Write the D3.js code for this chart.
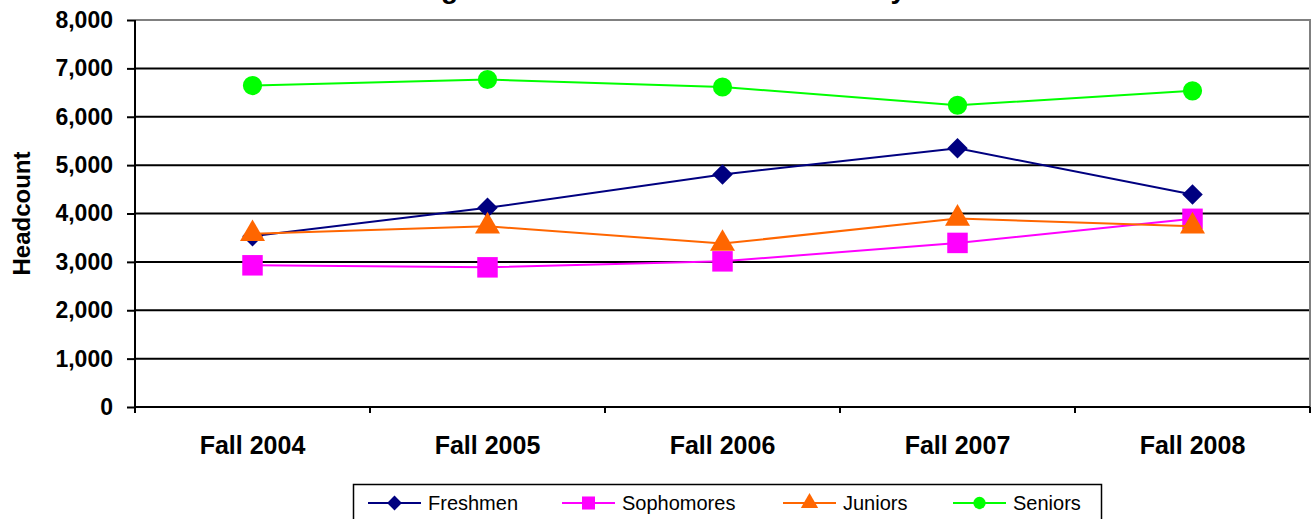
<!DOCTYPE html>
<html>
<head>
<meta charset="utf-8">
<script src="https://cdn.jsdelivr.net/npm/d3@7"></script>
<style>
	body { margin: 0; background: #fff; }
	svg text { font-family: "Liberation Sans", Arial, sans-serif; }
</style>
</head>
<body>
<div id="chart"></div>
<script>
"use strict";

// data
var categories = ["Fall 2004", "Fall 2005", "Fall 2006", "Fall 2007", "Fall 2008"];
var freshmen = [3530, 4117, 4808, 5347, 4394];
var sophomores = [2929, 2887, 3011, 3392, 3890];
var juniors = [3579, 3737, 3378, 3896, 3737];
var seniors = [6645, 6770, 6615, 6238, 6535];
var seriesNames = ["Freshmen", "Sophomores", "Juniors", "Seniors"];
var yTicks = [0, 1000, 2000, 3000, 4000, 5000, 6000, 7000, 8000];
var titleText = "Undergraduate Headcount Enrollment by Class Level";

// excel style diamond: a square turned 45 degrees
var diamond = {
	draw: function (ctx, size) {
		var r = Math.sqrt(size / 2);
		ctx.moveTo(0, -r);
		ctx.lineTo(r, 0);
		ctx.lineTo(0, r);
		ctx.lineTo(-r, 0);
		ctx.closePath();
	}
};

var series = [
	{ name: seriesNames[0], values: freshmen, color: "#000080", shape: diamond },
	{ name: seriesNames[1], values: sophomores, color: "#ff00ff", shape: d3.symbolSquare },
	{ name: seriesNames[2], values: juniors, color: "#ff6600", shape: d3.symbolTriangle },
	{ name: seriesNames[3], values: seniors, color: "#00ff00", shape: d3.symbolCircle }
];

var W = 1312, H = 519;
var margin = { top: 20, right: 2, bottom: 112, left: 135 },
	width = W - margin.left - margin.right,
	height = H - margin.top - margin.bottom;

var svg = d3.select("#chart").append("svg")
	.attr("width", W)
	.attr("height", H);

// title sits mostly above the page, only its descenders show (as in the original)
svg.append("text")
	.attr("x", 714)
	.attr("y", -2)
	.attr("text-anchor", "middle")
	.style("font-size", "28px")
	.style("font-weight", "bold")
	.text(titleText);

var g = svg.append("g")
	.attr("transform", "translate(" + margin.left + "," + margin.top + ")");

var x = d3.scaleBand().domain(categories).range([0, width]);
var y = d3.scaleLinear().domain([0, 8000]).range([height, 0]);
var cx = function (i) { return x(categories[i]) + x.bandwidth() / 2; };

// gridlines
g.append("g")
	.selectAll("line")
	.data(yTicks)
	.enter().append("line")
	.attr("x1", 0).attr("x2", width)
	.attr("y1", function (d) { return y(d); })
	.attr("y2", function (d) { return y(d); })
	.attr("stroke", "#000")
	.attr("stroke-width", 2);

// plot area frame (top and right in grey)
g.append("path")
	.attr("d", "M0,0H" + width + "V" + height)
	.attr("fill", "none")
	.attr("stroke", "#808080")
	.attr("stroke-width", 2);

// y axis
var yAxis = g.append("g")
	.call(d3.axisLeft(y).tickValues(yTicks).tickFormat(d3.format(",")).tickSize(8).tickPadding(14));
yAxis.select(".domain").remove();
yAxis.selectAll(".tick line").attr("stroke", "#000").attr("stroke-width", 2);
yAxis.selectAll("text")
	.style("font-size", "23px")
	.style("font-weight", "bold")
	.attr("fill", "#000");
g.append("line")
	.attr("x1", 0).attr("x2", 0)
	.attr("y1", 0).attr("y2", height + 6)
	.attr("stroke", "#000").attr("stroke-width", 2);

// x axis
var xAxis = g.append("g")
	.attr("transform", "translate(0," + height + ")")
	.call(d3.axisBottom(x).tickSize(0).tickPadding(29));
xAxis.select(".domain").remove();
xAxis.selectAll("text")
	.style("font-size", "25px")
	.style("font-weight", "bold")
	.attr("fill", "#000");
g.append("line")
	.attr("x1", 0).attr("x2", width)
	.attr("y1", height).attr("y2", height)
	.attr("stroke", "#000").attr("stroke-width", 2);
g.append("g").selectAll("line")
	.data(d3.range(categories.length + 1))
	.enter().append("line")
	.attr("x1", function (i) { return i * x.step(); })
	.attr("x2", function (i) { return i * x.step(); })
	.attr("y1", height).attr("y2", height + 6)
	.attr("stroke", "#000").attr("stroke-width", 2);

// axis title
svg.append("text")
	.attr("transform", "translate(30," + (margin.top + height / 2) + ") rotate(-90)")
	.attr("text-anchor", "middle")
	.style("font-size", "24px")
	.style("font-weight", "bold")
	.text("Headcount");

// lines + markers
var line = d3.line()
	.x(function (d, i) { return cx(i); })
	.y(function (d) { return y(d); });

var sg = g.selectAll(".series")
	.data(series)
	.enter().append("g")
	.attr("class", "series");

sg.append("path")
	.attr("d", function (s) { return line(s.values); })
	.attr("fill", "none")
	.attr("stroke", function (s) { return s.color; })
	.attr("stroke-width", 2);

var markerSize = { "Freshmen": 210, "Sophomores": 420, "Juniors": 270, "Seniors": 290 };

sg.each(function (s) {
	d3.select(this).selectAll("path.mk")
		.data(s.values)
		.enter().append("path")
		.attr("class", "mk")
		.attr("d", d3.symbol().type(s.shape).size(markerSize[s.name]))
		.attr("transform", function (d, i) { return "translate(" + cx(i) + "," + y(d) + ")"; })
		.attr("fill", s.color);
});

// legend
var legend = svg.append("g");
legend.append("rect")
	.attr("x", 353.5).attr("y", 484.5)
	.attr("width", 748).attr("height", 40)
	.attr("fill", "#fff")
	.attr("stroke", "#000")
	.attr("stroke-width", 1.5);

var legendX = [368, 562, 783, 953];
var legendMarker = { "Freshmen": 110, "Sophomores": 170, "Juniors": 130, "Seniors": 120 };
var li = legend.selectAll(".li")
	.data(series)
	.enter().append("g")
	.attr("transform", function (s, i) { return "translate(" + legendX[i] + ",503)"; });
li.append("line")
	.attr("x1", 0).attr("x2", 53)
	.attr("stroke", function (s) { return s.color; })
	.attr("stroke-width", 2);
li.append("path")
	.attr("d", function (s) { return d3.symbol().type(s.shape).size(legendMarker[s.name])(); })
	.attr("transform", "translate(26.5,0)")
	.attr("fill", function (s) { return s.color; });
li.append("text")
	.attr("x", 60)
	.attr("dy", "0.36em")
	.style("font-size", "20px")
	.text(function (s) { return s.name; });
</script>
</body>
</html>
